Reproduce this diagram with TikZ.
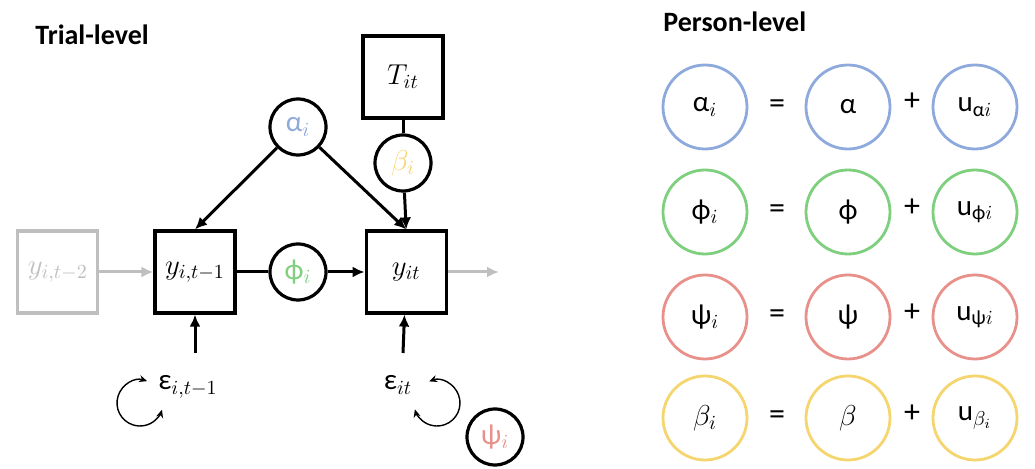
\documentclass[tikz,border=0pt]{standalone}
\usepackage{amsmath}
\usepackage{fontspec}
\setmainfont{Carlito}
\usepackage{tikz}
\usetikzlibrary{positioning}
\usetikzlibrary{arrows.meta}

\definecolor{lightgrey}{HTML}{BFBFBF}
\definecolor{alphablue}{HTML}{8EA9DB}
\definecolor{phigreen}{HTML}{7ECF7E}
\definecolor{psired}{HTML}{E8918B}
\definecolor{betayellow}{HTML}{F4D56E}

\newcommand{\labelfont}{\fontsize{14.5}{17}\selectfont}
\tikzstyle{heading} = [anchor=west, font=\fontsize{14}{16}\selectfont\bfseries, inner sep=0pt]
\tikzstyle{obsbox} = [rectangle, draw, line width=1.6pt, minimum width=40pt, minimum height=41pt, inner sep=0pt, font=\labelfont]
\tikzstyle{greybox} = [obsbox, draw=lightgrey, text=lightgrey]
\tikzstyle{param} = [circle, draw, line width=1.6pt, minimum size=28pt, inner sep=0pt, font=\labelfont]
\tikzstyle{person} = [circle, line width=1.4pt, minimum size=42pt, inner sep=0pt, font=\labelfont]
\tikzstyle{sign} = [font=\fontsize{16}{18}\selectfont, inner sep=0pt]
\tikzstyle{path arrow} = [-{Latex[length=6pt,width=5.5pt]}, line width=1.5pt]
\tikzstyle{loop arrow} = [{Stealth[length=4pt,width=3.5pt]}-{Stealth[length=4pt,width=3.5pt]}, line width=0.7pt]

\begin{document}
\begin{tikzpicture}[x=0.5pt,y=-0.5pt]
  \useasboundingbox (0,0) rectangle (1035,469);

  % trial-level model
  \node[heading] (trialtitle) at (35,35) {Trial-level};
  \node[obsbox] (yt1) at (195,272) {$y_{i,t-1}$};
  \node[greybox] (yt2) [left=27pt of yt1] {$y_{i,t-2}$};
  \node[obsbox] (yt) [right=64pt of yt1] {$y_{it}$};
  \node[obsbox] (Tit) at (403,77) {$T_{it}$};
  \node[param] (alpha) at (298,127) {\color{alphablue}α$_i$};
  \node[param] (beta) at (403,163) {\color{betayellow}$\beta_i$};
  \node[param] (phi) at (298,272) {\color{phigreen}ϕ$_i$};
  \node[param] (psi) at (495,437) {\color{psired}ψ$_i$};
  \node[font=\labelfont] (eps1) at (188,387) {ε$_{i,t-1}$};
  \node[font=\labelfont] (epst) at (398,385) {ε$_{it}$};
  \coordinate (e1) at (195,353);
  \coordinate (et) at (403,353);
  \coordinate (next) at (499,272);
  \coordinate (loop1) at (140,403);
  \coordinate (loopt) at (437,403);

  \draw[path arrow] (alpha) -- (yt1.north);
  \draw[path arrow] (alpha) -- (yt.north);
  \draw[line width=1.5pt] (Tit) -- (beta);
  \draw[path arrow] (beta) -- (yt.north);
  \draw[line width=1.5pt] (yt1) -- (phi);
  \draw[path arrow] (phi) -- (yt);
  \draw[path arrow, lightgrey] (yt2) -- (yt1);
  \draw[path arrow, lightgrey] (yt) -- (next);
  \draw[path arrow] (e1) -- (yt1);
  \draw[path arrow] (et) -- (yt);
  \draw[loop arrow] ([shift={(72:11.5pt)}]loop1) arc[start angle=72, end angle=343, radius=11.5pt];
  \draw[loop arrow] ([shift={(110:11.5pt)}]loopt) arc[start angle=110, end angle=-164, radius=11.5pt];

  % person-level equations
  \node[heading] (persontitle) at (663,22) {Person-level};
  \node[person, draw=alphablue] (alphai) at (705,107) {α$_i$};
  \node[person, draw=alphablue] (alphamean) at (848,107) {α};
  \node[person, draw=alphablue] (alphadev) at (975,107) {u$_{\text{α}i}$};
  \node[person, draw=phigreen] (phii) at (705,212) {ϕ$_i$};
  \node[person, draw=phigreen] (phimean) at (848,212) {ϕ};
  \node[person, draw=phigreen] (phidev) at (975,212) {u$_{\text{ϕ}i}$};
  \node[person, draw=psired] (psii) at (705,317) {ψ$_i$};
  \node[person, draw=psired] (psimean) at (848,317) {ψ};
  \node[person, draw=psired] (psidev) at (975,317) {u$_{\text{ψ}i}$};
  \node[person, draw=betayellow] (betai) at (705,418) {$\beta_i$};
  \node[person, draw=betayellow] (betamean) at (848,418) {$\beta$};
  \node[person, draw=betayellow] (betadev) at (975,418) {u$_{\beta_i}$};

  \node[sign] at (777,107) {=};
  \node[sign] at (912,102) {+};
  \node[sign] at (777,212) {=};
  \node[sign] at (912,208) {+};
  \node[sign] at (777,317) {=};
  \node[sign] at (912,313) {+};
  \node[sign] at (777,418) {=};
  \node[sign] at (912,414) {+};
\end{tikzpicture}
\end{document}
